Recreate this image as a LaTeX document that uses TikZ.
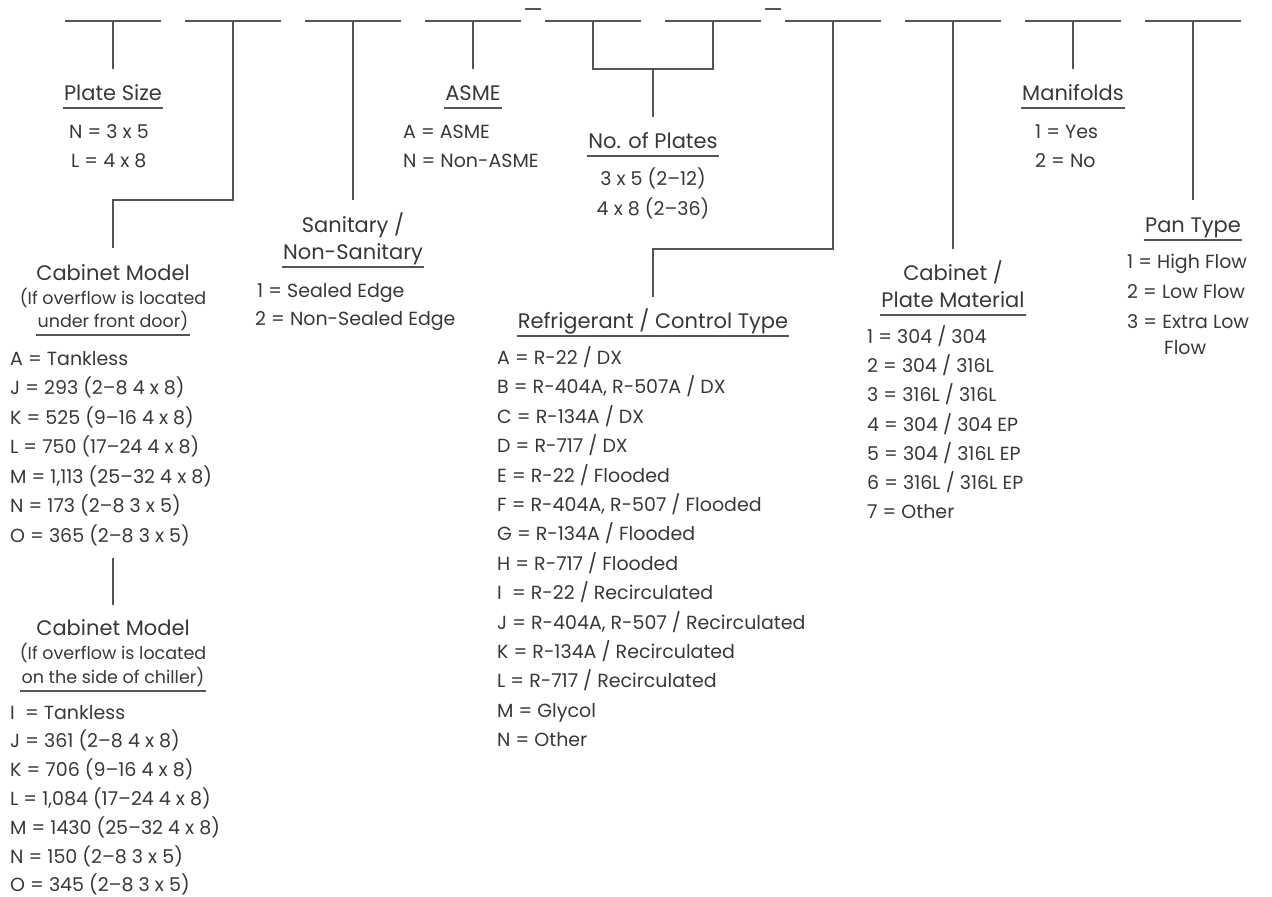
\documentclass[tikz,border=0pt]{standalone}
\usepackage{fontspec}
\setmainfont{Poppins}
\definecolor{txt}{HTML}{383838}
\definecolor{lncol}{HTML}{555555}
\begin{document}
\begin{tikzpicture}[x=1pt,y=-1pt,
  ln/.style={draw=lncol,line width=1.5pt},
  uline/.style={draw=lncol,line width=1.5pt,shorten <=-1pt,shorten >=-1pt},
  hd/.style={anchor=base,inner sep=0pt,font=\fontsize{21}{21}\selectfont,text=txt},
  sub/.style={anchor=base,inner sep=0pt,font=\fontsize{17.5}{17.5}\selectfont,text=txt},
  it/.style={anchor=base west,inner sep=0pt,font=\fontsize{19}{19}\selectfont,text=txt},
  itc/.style={it,anchor=base},
]
\useasboundingbox (0,0) rectangle (1272,897);
\newcommand{\ulof}[1]{\draw[uline] ([yshift=-8pt]#1.base west) -- ([yshift=-8pt]#1.base east);}

% top blanks
\foreach \i/\c in {1/113,2/233,3/353,4/473,5/593,6/713,7/833,8/953,9/1073,10/1193}{
  \coordinate (t\i) at (\c,21);
  \coordinate (t\i l) at (\c-48,21);
  \coordinate (t\i r) at (\c+48,21);
  \draw[ln] (t\i l) -- (t\i r);
}
\coordinate (d1a) at (525,9); \coordinate (d1b) at (541,9);
\coordinate (d2a) at (765,9); \coordinate (d2b) at (781,9);
\draw[ln] (d1a) -- (d1b);
\draw[ln] (d2a) -- (d2b);

% stem ends
\coordinate (e1) at (113,69);
\coordinate (j2) at (113,200); \coordinate (e2) at (113,248);
\coordinate (e3) at (353,200);
\coordinate (e4) at (473,69);
\coordinate (b5) at (593,69); \coordinate (b6) at (713,69);
\coordinate (n0) at (653,69); \coordinate (n1) at (653,117);
\coordinate (j7) at (653,249); \coordinate (e7) at (653,297);
\coordinate (e8) at (953,249);
\coordinate (e9) at (1073,69);
\coordinate (e10) at (1193,200);
\coordinate (c0) at (113,558); \coordinate (c1) at (113,605);

\draw[ln] (t1) -- (e1);
\draw[ln] (t2) |- (j2) -- (e2);
\draw[ln] (t3) -- (e3);
\draw[ln] (t4) -- (e4);
\draw[ln] (t5) -- (b5) -- (b6) -- (t6);
\draw[ln] (n0) -- (n1);
\draw[ln] (t7) |- (j7) -- (e7);
\draw[ln] (t8) -- (e8);
\draw[ln] (t9) -- (e9);
\draw[ln] (t10) -- (e10);
\draw[ln] (c0) -- (c1);

% Plate size
\node[hd] (ps) at (113,100) {Plate Size}; \ulof{ps}
\node[it] (ps1) at (69,138) {N = 3 x 5};
\node[it] (ps2) at (71,167) {L = 4 x 8};

% ASME
\node[hd] (as) at (473,100) {ASME}; \ulof{as}
\node[it] (as1) at (403,138) {A = ASME};
\node[it] (as2) at (403,167) {N = Non-ASME};

% No. of plates
\node[hd] (np) at (653,148) {No. of Plates}; \ulof{np}
\node[itc] (np1) at (653,185) {3 x 5 (2–12)};
\node[itc] (np2) at (653,215) {4 x 8 (2–36)};

% Manifolds
\node[hd] (mf) at (1073,100) {Manifolds}; \ulof{mf}
\node[it] (mf1) at (1035,138) {1 = Yes};
\node[it] (mf2) at (1035,167) {2 = No};

% Sanitary
\node[hd] (sa1) at (353,232) {Sanitary /};
\node[hd] (sa2) at (353,259) {Non-Sanitary}; \ulof{sa2}
\node[it] (sa3) at (257,297) {1 = Sealed Edge};
\node[it] (sa4) at (255,325) {2 = Non-Sealed Edge};

% Cabinet model 1
\node[hd] (cb1) at (113,280) {Cabinet Model};
\node[sub] (cb2) at (113,304) {(If overflow is located};
\node[sub] (cb3) at (113,327) {under front door)}; \ulof{cb3}
\foreach \k/\t in {0/{A = Tankless},1/{J = 293 (2–8 4 x 8)},2/{K = 525 (9–16 4 x 8)},3/{L = 750 (17–24 4 x 8)},4/{M = 1,113 (25–32 4 x 8)},5/{N = 173 (2–8 3 x 5)},6/{O = 365 (2–8 3 x 5)}}{
  \node[it] (ca\k) at (10,365+29.5*\k) {\t};
}

% Cabinet model 2
\node[hd] (cc1) at (113,635) {Cabinet Model};
\node[sub] (cc2) at (113,659) {(If overflow is located};
\node[sub] (cc3) at (113,683) {on the side of chiller)}; \ulof{cc3}
\foreach \k/\t in {0/{I\ \ = Tankless},1/{J = 361 (2–8 4 x 8)},2/{K = 706 (9–16 4 x 8)},3/{L = 1,084 (17–24 4 x 8)},4/{M = 1430 (25–32 4 x 8)},5/{N = 150 (2–8 3 x 5)},6/{O = 345 (2–8 3 x 5)}}{
  \node[it] (cd\k) at (10,719+28.8*\k) {\t};
}

% Refrigerant
\node[hd] (rf) at (653,328) {Refrigerant / Control Type}; \ulof{rf}
\foreach \k/\t in {0/{A = R-22 / DX},1/{B = R-404A, R-507A / DX},2/{C = R-134A / DX},3/{D = R-717 / DX},4/{E = R-22 / Flooded},5/{F = R-404A, R-507 / Flooded},6/{G = R-134A / Flooded},7/{H = R-717 / Flooded},8/{I\ \ = R-22 / Recirculated},9/{J = R-404A, R-507 / Recirculated},10/{K = R-134A / Recirculated},11/{L = R-717 / Recirculated},12/{M = Glycol},13/{N = Other}}{
  \node[it] (rf\k) at (497,364.5+29.4*\k) {\t};
}

% Cabinet / plate material
\node[hd] (pm1) at (953,280) {Cabinet /};
\node[hd] (pm2) at (953,307) {Plate Material}; \ulof{pm2}
\foreach \k/\t in {0/{1 = 304 / 304},1/{2 = 304 / 316L},2/{3 = 316L / 316L},3/{4 = 304 / 304 EP},4/{5 = 304 / 316L EP},5/{6 = 316L / 316L EP},6/{7 = Other}}{
  \node[it] (pm\k x) at (867,343.5+29.2*\k) {\t};
}

% Pan type
\node[hd] (pt) at (1193,232) {Pan Type}; \ulof{pt}
\node[it] (pt1) at (1127,268.5) {1 = High Flow};
\node[it] (pt2) at (1127,298) {2 = Low Flow};
\node[it] (pt3) at (1127,328) {3 = Extra Low};
\node[it] (pt4) at (1164,354.5) {Flow};
\end{tikzpicture}
\end{document}
